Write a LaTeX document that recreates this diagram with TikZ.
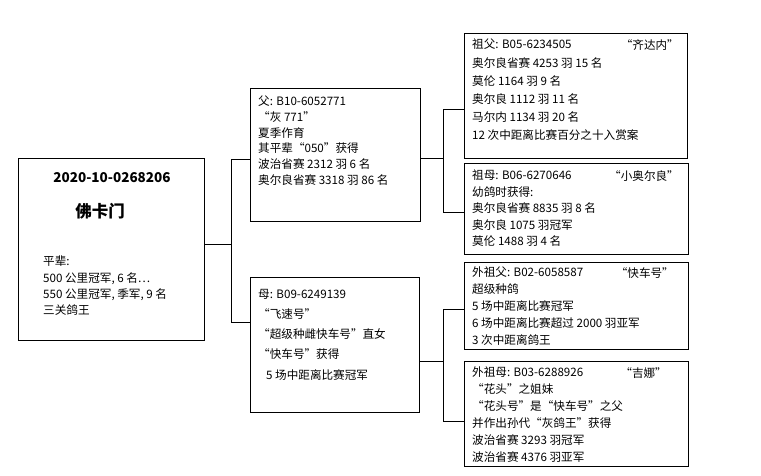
\documentclass[tikz,border=0pt]{standalone}
\usepackage{fontspec}
\setmainfont{Noto Sans CJK SC}
\begin{document}
\begin{tikzpicture}[x=1pt,y=-1pt,
 box/.style={draw,line width=0.8pt,anchor=north west,inner sep=0pt},
 txt/.style={anchor=north west,align=left,inner sep=0pt,font=\fontsize{11.6}{#1}\selectfont},
 nick/.style={anchor=north east,inner sep=0pt,font=\fontsize{11.6}{13}\selectfont},
 ln/.style={line width=0.8pt}]
\useasboundingbox[fill=white] (0,0) rectangle (761,476);
% boxes
\node[box,minimum width=186pt,minimum height=182pt] (m) at (18,158) {};
\node[box,minimum width=170pt,minimum height=133pt] (f) at (250,88) {};
\node[box,minimum width=169pt,minimum height=135pt] (mo) at (250,277) {};
\node[box,minimum width=223pt,minimum height=125pt] (gf) at (464,33) {};
\node[box,minimum width=224pt,minimum height=91pt] (gm) at (464,163) {};
\node[box,minimum width=224pt,minimum height=87pt] (ogf) at (464,262) {};
\node[box,minimum width=224pt,minimum height=105pt] (ogm) at (464,361) {};
% connectors
\coordinate (j1t) at (231,159); \coordinate (j1b) at (231,322);
\coordinate (j2t) at (443,109); \coordinate (j2b) at (443,212);
\coordinate (j3t) at (443,309); \coordinate (j3b) at (443,421);
\draw[ln] (m.east |- 0,244) -- (j1t |- 0,244);
\draw[ln] (f.west |- j1t) -- (j1t) -- (j1b) -- (mo.west |- j1b);
\draw[ln] (f.east |- 0,158) -- (j2t |- 0,158);
\draw[ln] (gf.west |- j2t) -- (j2t) -- (j2b) -- (gm.west |- j2b);
\draw[ln] (mo.east |- 0,361) -- (j3t |- 0,361);
\draw[ln] (ogf.west |- j3t) -- (j3t) -- (j3b) -- (ogm.west |- j3b);
% main text
\node[inner sep=0pt,font=\bfseries\fontsize{13.5}{16}\selectfont] (mt) at (112,178) {2020-10-0268206};
\node[inner sep=0pt,font=\bfseries\fontsize{16.5}{19}\selectfont] (mn) at (100,211) {佛卡门};
\node[txt=16.3] (mx) at (43,256) {平辈:\\500 公里冠军, 6 名…\\550 公里冠军, 季军, 9 名\\三关鸽王};
% father
\node[txt=15.7] (ft) at (258,96) {父: B10-6052771\\“灰 771”\\夏季作育\\其平辈“050”获得\\波治省赛 2312 羽 6 名\\奥尔良省赛 3318 羽 86 名};
% mother
\node[txt=20.2] (mot) at (258,289) {母: B09-6249139\\“飞速号”\\“超级种雌快车号”直女\\“快车号”获得\\\hspace*{8pt}5 场中距离比赛冠军};
% grandfather
\node[txt=18.2] (gft) at (472,39) {祖父: B05-6234505\\奥尔良省赛 4253 羽 15 名\\莫伦 1164 羽 9 名\\奥尔良 1112 羽 11 名\\马尔内 1134 羽 20 名\\12 次中距离比赛百分之十入赏案};
\node[nick] (gfn) at (679,39) {“齐达内”};
% grandmother
\node[txt=16.5] (gmt) at (472,170) {祖母: B06-6270646\\幼鸽时获得:\\奥尔良省赛 8835 羽 8 名\\奥尔良 1075 羽冠军\\莫伦 1488 羽 4 名};
\node[nick] (gmn) at (679,170) {“小奥尔良”};
% outer grandfather
\node[txt=16.8] (ogft) at (472,267) {外祖父: B02-6058587\\超级种鸽\\5 场中距离比赛冠军\\6 场中距离比赛超过 2000 羽亚军\\3 次中距离鸽王};
\node[nick] (ogfn) at (674,267) {“快车号”};
% outer grandmother
\node[txt=16.9] (ogmt) at (472,367) {外祖母: B03-6288926\\“花头”之姐妹\\“花头号”是“快车号”之父\\并作出孙代“灰鸽王”获得\\波治省赛 3293 羽冠军\\波治省赛 4376 羽亚军};
\node[nick] (ogmn) at (667,367) {“吉娜”};
\end{tikzpicture}
\end{document}
